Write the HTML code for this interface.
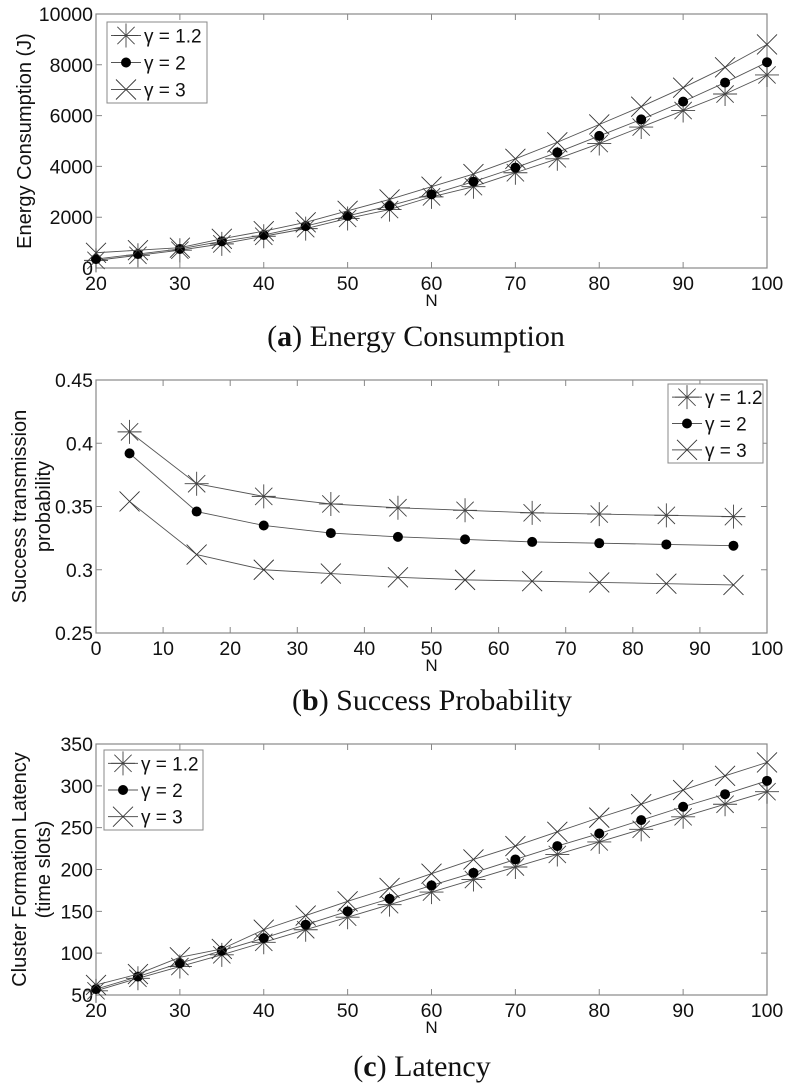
<!DOCTYPE html>
<html><head><meta charset="utf-8"><style>
html,body{margin:0;padding:0;background:#fff;width:791px;height:1089px;overflow:hidden}
svg{display:block}
text{font-family:"Liberation Sans",sans-serif;fill:#111}
.cap{font-family:"Liberation Serif",serif;font-size:30px}
</style></head><body>
<svg id="fig" width="791" height="1089" viewBox="0 0 791 1089" xmlns="http://www.w3.org/2000/svg"></svg>
<script>
const xA = [20,25,30,35,40,45,50,55,60,65,70,75,80,85,90,95,100];
const aG12 = [300,500,700,950,1250,1550,1950,2300,2800,3200,3750,4300,4900,5550,6200,6850,7600];
const aG2 = [350,550,750,1050,1300,1650,2050,2450,2900,3400,3950,4550,5200,5850,6550,7300,8100];
const aG3 = [600,700,800,1150,1450,1800,2250,2700,3200,3700,4300,4950,5650,6350,7100,7900,8800];
const aXTicks = [20,30,40,50,60,70,80,90,100];
const aYTicks = [0,2000,4000,6000,8000,10000];

const xB = [5,15,25,35,45,55,65,75,85,95];
const bG12 = [0.409,0.368,0.358,0.352,0.349,0.347,0.345,0.344,0.343,0.342];
const bG2 = [0.392,0.346,0.335,0.329,0.326,0.324,0.322,0.321,0.320,0.319];
const bG3 = [0.354,0.312,0.300,0.297,0.294,0.292,0.291,0.290,0.289,0.288];
const bXTicks = [0,10,20,30,40,50,60,70,80,90,100];
const bYTicks = [0.25,0.3,0.35,0.4,0.45];
const bYLabels = ["0.25","0.3","0.35","0.4","0.45"];

const xC = [20,25,30,35,40,45,50,55,60,65,70,75,80,85,90,95,100];
const cG12 = [55,70,84,98,113,128,143,158,173,188,203,218,233,248,263,278,293];
const cG2 = [57,72,88,103,118,134,150,165,181,196,212,228,243,259,275,290,306];
const cG3 = [62,75,95,105,128,145,162,178,195,212,228,245,262,278,295,312,328];
const cXTicks = [20,30,40,50,60,70,80,90,100];
const cYTicks = [50,100,150,200,250,300,350];

const NS="http://www.w3.org/2000/svg";
const svg=document.getElementById('fig');
function el(tag,attrs,parent,txt){const e=document.createElementNS(NS,tag);for(const k in attrs)e.setAttribute(k,attrs[k]);if(txt!==undefined)e.textContent=txt;(parent||svg).appendChild(e);return e;}

function star(g,x,y,r){
  el('path',{d:`M${x-r},${y}H${x+r}M${x},${y-r}V${y+r}M${x-r*0.72},${y-r*0.72}L${x+r*0.72},${y+r*0.72}M${x-r*0.72},${y+r*0.72}L${x+r*0.72},${y-r*0.72}`,stroke:'#444','stroke-width':0.9,fill:'none'},g);
}
function cross(g,x,y,r){
  el('path',{d:`M${x-r},${y-r}L${x+r},${y+r}M${x-r},${y+r}L${x+r},${y-r}`,stroke:'#333','stroke-width':0.9,fill:'none'},g);
}
function dot(g,x,y){el('circle',{cx:x,cy:y,r:5,fill:'#000'},g);}

function chart(o){
  const g=el('g',{});
  
  
  const sx=v=>o.L+(v-o.x0)/(o.x1-o.x0)*(o.R-o.L);
  const sy=v=>o.B-(v-o.y0)/(o.y1-o.y0)*(o.B-o.T);
  el('rect',{x:o.L,y:o.T,width:o.R-o.L,height:o.B-o.T,fill:'none',stroke:'#888','stroke-width':1.2},g);
  o.xt.forEach(v=>{const x=sx(v);
    el('path',{d:`M${x},${o.B}v-6M${x},${o.T}v6`,stroke:'#888'},g);
    const t=el('text',{x:x,y:o.B+22,'text-anchor':'middle','font-size':19.5},g,String(v));
    });
  o.yt.forEach((v,i)=>{const y=sy(v);
    el('path',{d:`M${o.L},${y}h6M${o.R},${y}h-6`,stroke:'#888'},g);
    const t=el('text',{x:o.L-3,y:y+7,'text-anchor':'end','font-size':19.5},g,o.yl?o.yl[i]:String(v));
    });
  const xl=el('text',{x:(o.L+o.R)/2,y:o.B+38,'text-anchor':'middle','font-size':17},g,'N');
  
  const yg=el('text',{transform:`translate(${o.ylx},${(o.T+o.B)/2}) rotate(-90)`,'text-anchor':'middle','font-size':20},g);
  
  o.ytitle.forEach((s,i)=>el('tspan',{x:0,dy:i?24:0},yg,s));
  const series=[[o.s12,'star','series-gamma-1-2'],[o.s2,'dot','series-gamma-2'],[o.s3,'cross','series-gamma-3']];
  series.forEach(([d,m,n])=>{
    const sg=el('g',{},g);
    el('polyline',{points:o.xs.map((x,i)=>sx(x)+','+sy(d[i])).join(' '),fill:'none',stroke:'#555','stroke-width':0.9},sg);
    o.xs.forEach((x,i)=>{const px=sx(x),py=sy(d[i]);
      if(m==='star')star(sg,px,py,12);else if(m==='dot')dot(sg,px,py);else cross(sg,px,py,10);});
  });
  const lg=el('g',{},g);
  const [lx,ly,lw,lh]=o.leg;
  el('rect',{x:lx,y:ly,width:lw,height:lh,fill:'#fff',stroke:'#888'},lg);
  const labs=['γ = 1.2','γ = 2','γ = 3'];
  labs.forEach((s,i)=>{const y=ly+lh*(i+0.5)/3;
    el('line',{x1:lx+4,x2:lx+34,y1:y,y2:y,stroke:'#555'},lg);
    if(i===0)star(lg,lx+19,y,12);else if(i===1)dot(lg,lx+19,y);else cross(lg,lx+19,y,10);
    const t=el('text',{x:lx+37,y:y+7,'font-size':19},lg,s);
    });
  const c=el('text',{x:o.capx,y:o.capy,'class':'cap','text-anchor':'middle'},g);
  
  el('tspan',{},c,'(');el('tspan',{'font-weight':'bold'},c,o.cl);el('tspan',{},c,') '+o.cap);
}

chart({name:'energy-chart',L:96,R:767,T:14,B:268,x0:20,x1:100,y0:0,y1:10000,xt:aXTicks,yt:aYTicks,
  xs:xA,s12:aG12,s2:aG2,s3:aG3,ytitle:['Energy Consumption (J)'],ylx:31,leg:[107,22,100,81],
  capx:416,capy:346,cl:'a',cap:'Energy Consumption'});
chart({name:'success-probability-chart',L:96,R:767,T:380,B:633,x0:0,x1:100,y0:0.25,y1:0.45,xt:bXTicks,yt:bYTicks,yl:bYLabels,
  xs:xB,s12:bG12,s2:bG2,s3:bG3,ytitle:['Success transmission','probability'],ylx:26,leg:[668,384,95,79],
  capx:432,capy:710,cl:'b',cap:'Success Probability'});
chart({name:'latency-chart',L:96,R:767,T:744,B:995,x0:20,x1:100,y0:50,y1:350,xt:cXTicks,yt:cYTicks,
  xs:xC,s12:cG12,s2:cG2,s3:cG3,ytitle:['Cluster Formation Latency','(time slots)'],ylx:26,leg:[104,750,99,80],
  capx:422,capy:1076,cl:'c',cap:'Latency'});
</script>
</body></html>
